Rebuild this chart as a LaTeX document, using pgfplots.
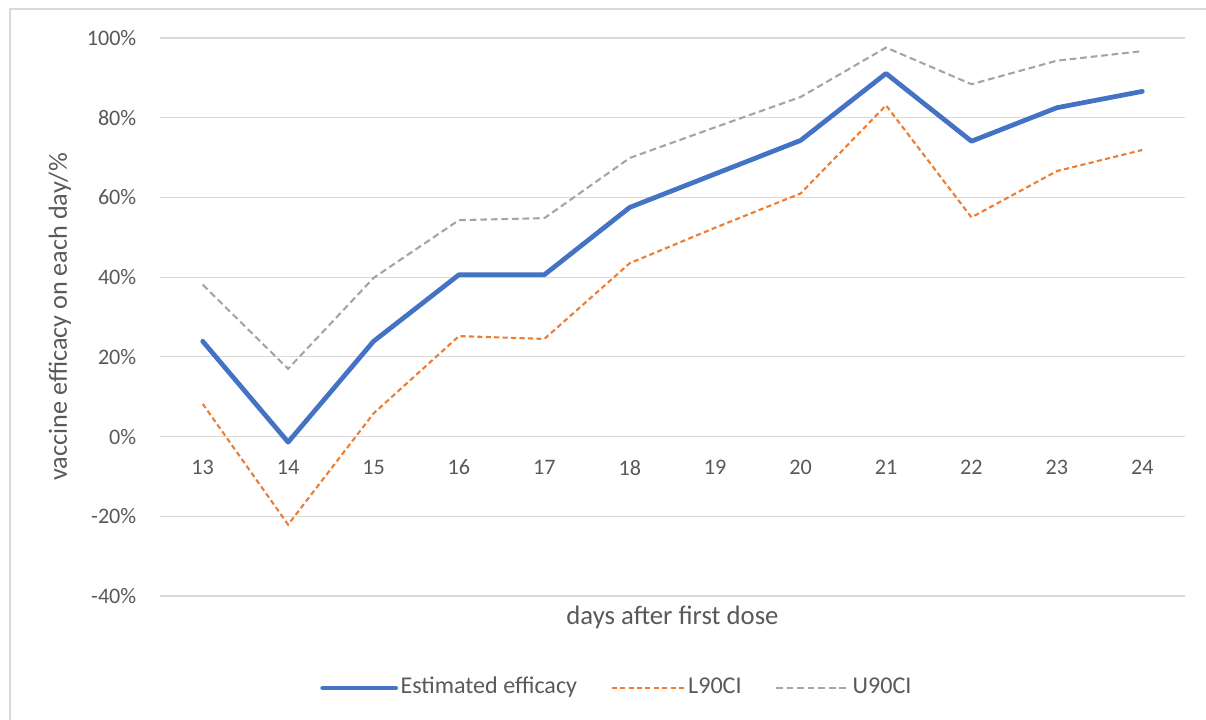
\documentclass[border=0pt]{standalone}
\usepackage{fontspec}
\setmainfont{Carlito}
\usepackage{pgfplots}
\pgfplotsset{compat=1.18}
\definecolor{effblue}{HTML}{4472C4}
\definecolor{lcorange}{HTML}{ED7D31}
\definecolor{ucgray}{HTML}{A5A5A5}
\definecolor{txtgray}{HTML}{595959}
\definecolor{gridgray}{HTML}{D9D9D9}
\begin{document}
\begin{tikzpicture}
% 1 px of the reference = 0.1 mm
\path[use as bounding box] (0,0) rectangle (12.06,7.2);
\draw[gridgray, line width=0.3pt] (0.10,0) -- (0.10,7.11) -- (12.06,7.11);
\begin{axis}[%
    ,at={(1.60cm,1.24cm)},anchor=south west
    ,scale only axis,width=10.25cm,height=5.58cm
    ,xmin=12.5,xmax=24.5,ymin=-40,ymax=100
    ,axis x line=middle,axis y line=left
    ,axis line style={draw=none}
    ,hide obscured x ticks=false,hide obscured y ticks=false
    ,major tick length=0pt
    ,ymajorgrids,grid style={gridgray,line width=0.3pt}
    ,xtick={13,14,15,16,17,18,19,20,21,22,23,24}
    ,xticklabels={13,14,15,16,17,18,19,20,21,22,23,24}
    ,ytick={-40,-20,0,20,40,60,80,100}
    ,yticklabels={-40\%,-20\%,0\%,20\%,40\%,60\%,80\%,100\%}
    ,tick label style={font=\fontsize{6.3}{7.5}\selectfont,text=txtgray}
    ,yticklabel style={anchor=east,inner sep=0pt,xshift=-2.3mm}
    ,xticklabel style={anchor=center,inner sep=0pt,yshift=-3.1mm}
    ,xlabel={days after first dose}
    ,ylabel={vaccine efficacy on each day/\%}
    ,every axis x label/.style={at={(axis description cs:0.5,-0.0376)},anchor=center,
        font=\fontsize{7.6}{9}\selectfont,text=txtgray}
    ,every axis y label/.style={at={(axis description cs:-0.0976,0.5)},rotate=90,anchor=center,
        font=\fontsize{7.45}{9}\selectfont,text=txtgray}
    ,legend columns=3
    ,legend style={at={(axis description cs:0.446,-0.165)},anchor=center,draw=none,fill=none,
        font=\fontsize{6.85}{8}\selectfont,text=txtgray,
        /tikz/every even column/.append style={column sep=3.1mm},
        nodes={inner sep=0.25mm}}
    ,legend image code/.code={\draw[#1] (0cm,0cm) -- (0.73cm,0cm);}
    ]
\addplot[effblue,line width=1.35pt,line join=round,line cap=round] coordinates {
    (13,23.9) (14,-1.4) (15,23.9) (16,40.6) (17,40.6) (18,57.5)
    (19,65.9) (20,74.3) (21,91.1) (22,74.1) (23,82.5) (24,86.6)};
\addlegendentry{Estimated efficacy}
\addplot[lcorange,line width=0.6pt,dash pattern=on 1.45pt off 0.95pt] coordinates {
    (13,8.2) (14,-22.1) (15,5.8) (16,25.2) (17,24.5) (18,43.5)
    (19,52.4) (20,61.0) (21,83.1) (22,55.0) (23,66.6) (24,71.9)};
\addlegendentry{L90CI}
\addplot[ucgray,line width=0.6pt,dash pattern=on 1.9pt off 1.1pt] coordinates {
    (13,38.1) (14,17.0) (15,39.8) (16,54.3) (17,54.8) (18,69.9)
    (19,77.6) (20,85.2) (21,97.6) (22,88.4) (23,94.3) (24,96.7)};
\addlegendentry{U90CI}
\end{axis}
\end{tikzpicture}
\end{document}
